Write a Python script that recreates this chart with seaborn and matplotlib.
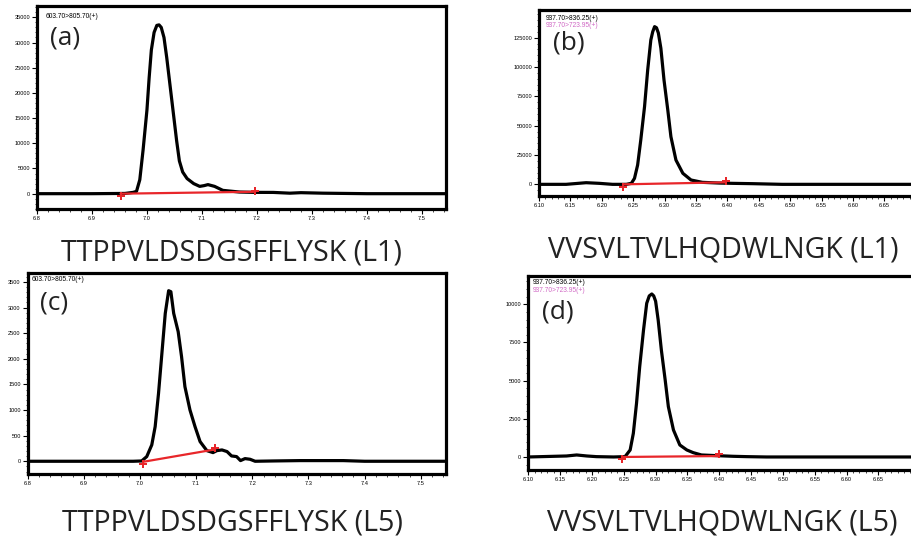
import matplotlib
matplotlib.use("Agg")
import matplotlib.pyplot as plt
import seaborn as sns
from matplotlib.ticker import MultipleLocator

sns.set_style("white")
plt.rcParams["font.family"] = ["Liberation Sans", "DejaVu Sans"]

# ---- data (retention time, intensity) ----
A_TIME = [6.80, 6.90, 6.96, 6.975, 6.981, 6.987, 6.993, 7.000, 7.004, 7.008, 7.013, 7.018,
          7.022, 7.026, 7.031, 7.036, 7.042, 7.048, 7.054, 7.059, 7.065, 7.073, 7.085,
          7.096, 7.104, 7.111, 7.123, 7.138, 7.168, 7.196, 7.23, 7.26, 7.28, 7.32, 7.40, 7.544]
A_INT = [0, 0, 50, 260, 460, 2770, 8700, 16600, 23000, 28500, 32000, 33400,
         33500, 33000, 31000, 27000, 21500, 16000, 10500, 6500, 4300, 3000, 2000,
         1450, 1600, 1800, 1450, 660, 330, 260, 250, 100, 200, 100, 0, 0]
A_BASE_TIME = [6.952, 7.197]
A_BASE_INT = [0, 380]
A_MARK_INT = [-500, 450]

B_TIME = [6.10, 6.143, 6.175, 6.196, 6.217, 6.239, 6.247, 6.252, 6.257, 6.262, 6.268,
          6.273, 6.278, 6.281, 6.284, 6.287, 6.290, 6.294, 6.299, 6.305, 6.310, 6.318,
          6.329, 6.342, 6.360, 6.387, 6.408, 6.440, 6.487, 6.72]
B_INT = [0, 0, 1400, 850, 0, 0, 850, 5100, 16500, 37800, 66200,
         97400, 123000, 130000, 134400, 133500, 129000, 116000, 88900, 63400, 40600, 20700,
         9400, 3700, 1700, 1100, 850, 570, 0, 0]
B_BASE_TIME = [6.234, 6.397]
B_BASE_INT = [0, 1700]
B_MARK_INT = [-2500, 2800]

C_TIME = [6.80, 6.988, 7.003, 7.012, 7.021, 7.027, 7.033, 7.039, 7.045, 7.051, 7.055,
          7.060, 7.068, 7.074, 7.080, 7.089, 7.098, 7.107, 7.119, 7.130, 7.137, 7.146,
          7.155, 7.163, 7.172, 7.179, 7.187, 7.196, 7.205, 7.238, 7.285, 7.362, 7.40, 7.545]
C_INT = [0, 0, 6, 91, 320, 676, 1326, 2107, 2887, 3329, 3309,
         2887, 2529, 2042, 1456, 1001, 676, 384, 208, 169, 208, 221,
         189, 104, 91, 13, 52, 39, 0, 6, 13, 13, 0, 0]
C_BASE_TIME = [7.006, 7.133]
C_BASE_INT = [-10, 230]
C_MARK_INT = [-50, 250]

D_TIME = [6.10, 6.160, 6.176, 6.192, 6.207, 6.234, 6.252, 6.260, 6.265, 6.270, 6.275,
          6.281, 6.286, 6.290, 6.294, 6.297, 6.300, 6.304, 6.309, 6.315, 6.320, 6.328,
          6.338, 6.349, 6.359, 6.372, 6.396, 6.422, 6.443, 6.474, 6.72]
D_INT = [0, 65, 131, 65, 22, 0, 22, 459, 1550, 3515, 5917,
         8319, 10066, 10550, 10677, 10550, 10200, 8974, 7009, 5044, 3297, 1769,
         786, 459, 284, 131, 87, 44, 22, 0, 0]
D_BASE_TIME = [6.247, 6.400]
D_BASE_INT = [0, 60]
D_MARK_INT = [-150, 200]

A_Y_TICKS = [0, 5000, 10000, 15000, 20000, 25000, 30000, 35000]
B_Y_TICKS = [0, 25000, 50000, 75000, 100000, 125000]
C_Y_TICKS = [0, 500, 1000, 1500, 2000, 2500, 3000, 3500]
D_Y_TICKS = [0, 2500, 5000, 7500, 10000]
L_X_TICKS = [6.8, 6.9, 7.0, 7.1, 7.2, 7.3, 7.4, 7.5]
R_X_TICKS = [6.10, 6.15, 6.20, 6.25, 6.30, 6.35, 6.40, 6.45, 6.50, 6.55, 6.60, 6.65]

TITLES = ["TTPPVLDSDGSFFLYSK (L1)", "VVSVLTVLHQDWLNGK (L1)",
          "TTPPVLDSDGSFFLYSK (L5)", "VVSVLTVLHQDWLNGK (L5)"]
LETTERS = ["(a)", "(b)", "(c)", "(d)"]
TRANSITIONS_L = ["603.70>805.70(+)"]
TRANSITIONS_R = ["937.70>836.25(+)", "937.70>723.95(+)"]
PINK = "#d068c4"
RED = "#e8262a"

fig = plt.figure(figsize=(9.11, 5.37), dpi=100)

panels = [
    # axes rect, data, xlim, ylim, xticks, xminor, yticks, yminor, fmt, transitions
    ([0.0406, 0.6108, 0.449, 0.378], (A_TIME, A_INT, A_BASE_TIME, A_BASE_INT, A_MARK_INT),
     (6.8, 7.544), (-3040, 37245), L_X_TICKS, 0.02, A_Y_TICKS, 1000, "{:.1f}", TRANSITIONS_L),
    ([0.5917, 0.635, 0.4274, 0.3464], (B_TIME, B_INT, B_BASE_TIME, B_BASE_INT, B_MARK_INT),
     (6.10, 6.72), (-9943, 148600), R_X_TICKS, 0.01, B_Y_TICKS, 5000, "{:.2f}", TRANSITIONS_R),
    ([0.0304, 0.1168, 0.4592, 0.3743], (C_TIME, C_INT, C_BASE_TIME, C_BASE_INT, C_MARK_INT),
     (6.8, 7.545), (-254, 3669), L_X_TICKS, 0.02, C_Y_TICKS, 100, "{:.1f}", TRANSITIONS_L),
    ([0.5799, 0.1248, 0.4333, 0.3613], (D_TIME, D_INT, D_BASE_TIME, D_BASE_INT, D_MARK_INT),
     (6.10, 6.72), (-852, 11856), R_X_TICKS, 0.01, D_Y_TICKS, 500, "{:.2f}", TRANSITIONS_R),
]

title_pos = [(0.2536, 0.5158), (0.7936, 0.5208), (0.2547, 0.012), (0.7925, 0.012)]
letter_pos = [(0.032, 0.84), (0.036, 0.823), (0.03, 0.85), (0.035, 0.814)]
trans_pos = [(0.02, 0.946), (0.018, 0.955), (0.01, 0.97), (0.012, 0.965)]

for i, (rect, (t, y, bt, by, my), xlim, ylim, xt, xmin, yt, ymin, fmt, trans) in enumerate(panels):
    ax = fig.add_axes(rect)
    sns.lineplot(x=t, y=y, ax=ax, color="black", linewidth=2.3, sort=False,
                 estimator=None, zorder=3, solid_joinstyle="round")
    sns.lineplot(x=bt, y=by, ax=ax, color=RED, linewidth=1.6, sort=False,
                 estimator=None, zorder=4)
    sns.scatterplot(x=bt, y=my, ax=ax, color=RED, marker="P", s=30,
                    linewidth=0, zorder=5)
    ax.set_xlim(*xlim)
    ax.set_ylim(*ylim)
    ax.set_xticks(xt)
    ax.set_xticklabels([fmt.format(v) for v in xt])
    ax.set_yticks(yt)
    ax.set_yticklabels([str(v) for v in yt])
    ax.xaxis.set_minor_locator(MultipleLocator(xmin))
    ax.yaxis.set_minor_locator(MultipleLocator(ymin))
    ax.tick_params(which="major", direction="out", length=3.5, width=0.8,
                   labelsize=4.1, pad=1.5, bottom=True, left=True, colors="black")
    ax.tick_params(which="minor", direction="out", length=1.8, width=0.6,
                   bottom=True, left=True)
    for s in ax.spines.values():
        s.set_linewidth(2.3)
        s.set_color("black")
    ax.set_xlabel("")
    ax.set_ylabel("")

    tx, ty = trans_pos[i]
    ax.text(tx, ty, trans[0], transform=ax.transAxes, fontsize=4.8, color="black",
            ha="left", va="center")
    if len(trans) > 1:
        ax.text(tx, ty - 0.04, trans[1], transform=ax.transAxes, fontsize=4.8,
                color=PINK, ha="left", va="center")
    lx, ly = letter_pos[i]
    ax.text(lx, ly, LETTERS[i], transform=ax.transAxes, fontsize=19,
            family=["Open Sans", "DejaVu Sans"], color="#222222", ha="left", va="center")

    px, py = title_pos[i]
    fig.text(px, py, TITLES[i], fontsize=20.6, family=["Open Sans", "DejaVu Sans"],
             color="#222222", ha="center", va="baseline")

fig.savefig("out.png", dpi=100)
